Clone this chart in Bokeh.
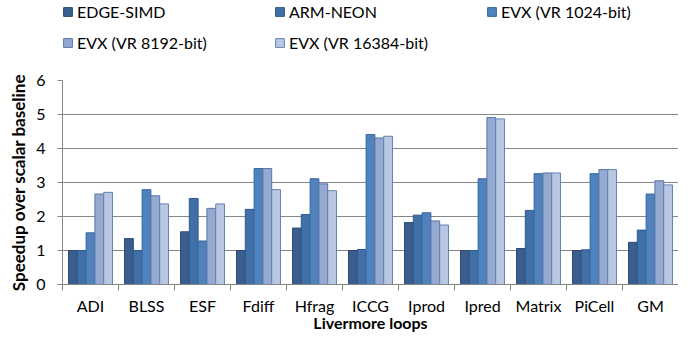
from bokeh.plotting import figure
from bokeh.layouts import column
from bokeh.models import ColumnDataSource, FixedTicker, Legend, LegendItem, Range1d
from bokeh.transform import dodge
from bokeh.embed import file_html
from bokeh.resources import INLINE

loops = ["ADI", "BLSS", "ESF", "Fdiff", "Hfrag", "ICCG", "Iprod", "Ipred", "Matrix", "PiCell", "GM"]
series_names = ["EDGE-SIMD", "ARM-NEON", "EVX (VR 1024-bit)", "EVX (VR 8192-bit)", "EVX (VR 16384-bit)"]
edge_simd = [1.00, 1.35, 1.55, 1.00, 1.66, 1.00, 1.82, 1.00, 1.06, 1.00, 1.24]
arm_neon = [1.00, 1.00, 2.53, 2.21, 2.06, 1.03, 2.04, 1.00, 2.18, 1.02, 1.60]
evx_1024 = [1.52, 2.79, 1.28, 3.41, 3.11, 4.41, 2.11, 3.11, 3.26, 3.26, 2.66]
evx_8192 = [2.66, 2.61, 2.24, 3.41, 2.96, 4.31, 1.87, 4.91, 3.28, 3.38, 3.05]
evx_16384 = [2.71, 2.37, 2.37, 2.79, 2.76, 4.36, 1.75, 4.87, 3.28, 3.38, 2.93]
y_ticks = [0, 1, 2, 3, 4, 5, 6]
x_title = "Livermore loops"
y_title = "Speedup over scalar baseline"

fills = ["#3A5F8E", "#4070A8", "#4F81BD", "#95A9D1", "#B9C7E3"]
lines = ["#2C4A70", "#30588A", "#3B679E", "#5676A8", "#6482B2"]

FONT = "Lato"
W = 678
LEG_H = 66
H = 334

centers = [i + 0.5 for i in range(len(loops))]
src = ColumnDataSource(dict(x=centers, s0=edge_simd, s1=arm_neon, s2=evx_1024, s3=evx_8192, s4=evx_16384))

# ---- main chart ----
p = figure(width=W, height=H - LEG_H, output_backend="svg", toolbar_location=None,
           x_range=Range1d(0, len(loops)), y_range=Range1d(0, 6),
           min_border_left=62, min_border_right=0, min_border_top=14, min_border_bottom=50)
p.outline_line_color = None
p.background_fill_color = "white"
p.border_fill_color = "white"

bw = 0.157
for k in range(5):
    p.vbar(x=dodge("x", (k - 2) * bw, range=p.x_range), top="s%d" % k, width=bw, bottom=0,
           source=src, fill_color=fills[k], line_color=lines[k], line_width=1)

xa = p.xaxis[0]
xa.ticker = FixedTicker(ticks=centers, minor_ticks=list(range(len(loops) + 1)))
xa.major_label_overrides = {c: n for c, n in zip(centers, loops)}
xa.major_tick_out = 0
xa.major_tick_in = 0
xa.minor_tick_out = 6
xa.minor_tick_in = 0
xa.minor_tick_line_color = "#868686"
xa.axis_line_color = "#868686"
xa.major_label_standoff = 5
xa.major_label_text_font = FONT
xa.major_label_text_font_size = "16px"
xa.major_label_text_line_height = 1.0
xa.major_label_text_color = "#000000"
xa.axis_label = x_title
xa.axis_label_text_font = FONT
xa.axis_label_text_font_size = "16px"
xa.axis_label_text_font_style = "bold"
xa.axis_label_text_line_height = 1.0
xa.axis_label_standoff = -5
xa.axis_label_text_color = "#000000"

ya = p.yaxis[0]
ya.ticker = FixedTicker(ticks=y_ticks)
ya.major_tick_out = 5
ya.major_tick_in = 0
ya.minor_tick_out = 0
ya.minor_tick_in = 0
ya.major_tick_line_color = "#868686"
ya.axis_line_color = "#868686"
ya.major_label_standoff = 12
ya.major_label_text_font = FONT
ya.major_label_text_font_size = "16px"
ya.major_label_text_color = "#000000"
ya.axis_label = y_title
ya.axis_label_text_font = FONT
ya.axis_label_text_font_size = "17px"
ya.axis_label_text_font_style = "bold"
ya.axis_label_standoff = 4
ya.axis_label_text_color = "#000000"

p.xgrid.grid_line_color = None
p.ygrid.grid_line_color = "#868686"
p.ygrid.grid_line_width = 1

# ---- legend strip (its frame lines up with the chart frame) ----
lf = figure(width=W, height=LEG_H, output_backend="svg", toolbar_location=None,
            x_range=Range1d(0, 1), y_range=Range1d(0, 1), x_axis_location=None, y_axis_location=None,
            min_border_left=62, min_border_right=0, min_border_top=0, min_border_bottom=0)
lf.outline_line_color = None
lf.xgrid.visible = False
lf.ygrid.visible = False
leg_renderers = []
for k in range(5):
    r = lf.vbar(x=[5], top=[1], width=0.1, fill_color=fills[k], line_color=lines[k], line_width=1)
    leg_renderers.append(r)

legend = Legend(items=[LegendItem(label=n, renderers=[r]) for n, r in zip(series_names, leg_renderers)],
                location=(0, 14), orientation="horizontal", ncols=3,
                glyph_width=11, glyph_height=11, label_standoff=4, label_width=186,
                label_height=20, spacing=11, padding=0, margin=0,
                border_line_color=None, background_fill_alpha=0,
                label_text_font=FONT, label_text_font_size="16px", label_text_color="#000000")
lf.add_layout(legend, "center")

layout = column(lf, p, spacing=0)
open("out.html", "w").write(file_html(layout, INLINE))
